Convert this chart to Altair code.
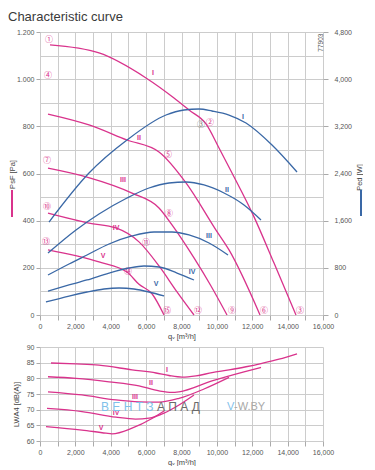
import altair as alt
import pandas as pd

PINK = "#d9338c"
BLUE = "#3a68a6"
FONT = "Liberation Sans"

# ---------- pressure curves (Pa) ----------
pI_q = [565, 3336, 5993, 7576, 8424, 9386, 10121, 10856, 12100, 13231, 14475]
pI_v = [1145, 1111, 1005, 920, 869, 810, 708, 602, 416, 220, 0]
pII_q = [452, 2770, 4919, 6728, 8255, 9951, 10686, 12440]
pII_v = [852, 806, 742, 691, 560, 360, 276, 0]
pIII_q = [452, 2657, 5202, 6728, 7463, 8707, 9668, 10573]
pIII_v = [623, 585, 517, 454, 382, 242, 123, 0]
pIV_q = [452, 2770, 4297, 5597, 6728, 7746, 8707]
pIV_v = [432, 390, 369, 310, 208, 98, 0]
pV_q = [452, 3336, 4919, 5597, 6332, 7011]
pV_v = [276, 225, 182, 130, 90, 0]

# ---------- power curves (W) ----------
wI_q = [509, 2770, 4919, 7124, 8142, 8990, 9725, 10686, 11647, 13117, 14531]
wI_v = [1577, 2408, 2968, 3392, 3477, 3494, 3460, 3392, 3256, 2883, 2425]
wII_q = [452, 2035, 3336, 4919, 6163, 7294, 8255, 9272, 10403, 11534, 12495]
wII_v = [1051, 1442, 1713, 1984, 2154, 2239, 2256, 2205, 2069, 1866, 1611]
wIII_q = [452, 1640, 2657, 3901, 5202, 6446, 7463, 8424, 9555, 10630]
wIII_v = [678, 865, 1018, 1204, 1340, 1408, 1408, 1357, 1221, 1018]
wIV_q = [452, 1640, 2657, 3901, 5032, 5880, 6728, 7746, 8707]
wIV_v = [407, 509, 594, 712, 797, 831, 814, 712, 594]
wV_q = [339, 1640, 2657, 3619, 4467, 5315, 6163, 7011]
wV_v = [220, 322, 390, 441, 458, 441, 390, 322]

# ---------- sound power curves (dB(A)) ----------
sI_q = [622, 2035, 3336, 5202, 6559, 7294, 8029, 8820, 9725, 10686, 11647, 12552, 13513, 14531]
sI_v = [84.9, 84.6, 84.2, 82.7, 81.7, 80.9, 80.4, 80.8, 81.8, 82.7, 83.7, 84.8, 86.1, 87.8]
sII_q = [452, 2035, 3900, 5597, 6728, 7463, 7859, 9725, 11534, 12495]
sII_v = [80.5, 80.0, 78.9, 77.6, 76.0, 75.5, 75.7, 79.2, 82.1, 83.5]
sIII_q = [452, 2375, 4297, 5597, 6728, 7859, 9272, 10686]
sIII_v = [75.7, 74.7, 73.1, 72.5, 72.4, 73.6, 76.6, 80.3]
sIV_q = [396, 2375, 4297, 5400, 6163, 7011, 7859, 8707]
sIV_v = [70.4, 69.4, 67.6, 67.0, 67.3, 68.9, 71.5, 74.7]
sV_q = [339, 2375, 3731, 4071, 5202, 6332, 7011]
sV_v = [64.6, 63.5, 62.5, 62.3, 64.1, 67.2, 69.6]

# ---------- labels ----------
roman = ["I", "II", "III", "IV", "V"]
plab_q = [6389, 5597, 4693, 4297, 3562]
plab_v = [1026, 750, 572, 369, 250]
wlab_q = [11478, 10573, 9555, 8594, 6559]
wlab_v = [3358, 2120, 1340, 729, 526]
slab_q = [7180, 6276, 5371, 4297, 3449]
slab_v = [82.7, 78.5, 74.0, 68.9, 64.2]

circ_txt = ["①", "④", "⑦", "⑩", "⑬", "②", "⑤", "⑧", "⑪", "⑭", "③", "⑥", "⑨", "⑫", "⑮"]
circ_q = [509, 452, 396, 396, 339, 9612, 7237, 7294, 5993, 4976, 14701, 12665, 10856, 8933, 7180]
circ_v = [1166, 1013, 653, 458, 310, 814, 678, 428, 305, 182, 17, 17, 17, 17, 17]
gray_circ_txt = ["③"]
gray_circ_q = [9103]
gray_circ_v = [806]


def long(names, qs, vs):
    rows = []
    for n, q, v in zip(names, qs, vs):
        for a, b in zip(q, v):
            rows.append({"curve": n, "q": a, "v": b})
    return pd.DataFrame(rows)


dfp = long(roman, [pI_q, pII_q, pIII_q, pIV_q, pV_q], [pI_v, pII_v, pIII_v, pIV_v, pV_v])
dfw = long(roman, [wI_q, wII_q, wIII_q, wIV_q, wV_q], [wI_v, wII_v, wIII_v, wIV_v, wV_v])
dfs = long(roman, [sI_q, sII_q, sIII_q, sIV_q, sV_q], [sI_v, sII_v, sIII_v, sIV_v, sV_v])

xscale = alt.Scale(domain=[0, 16000], nice=False)
xaxis = alt.Axis(
    values=list(range(0, 16001, 1000)),
    labelExpr="datum.value % 2000 === 0 ? format(datum.value, ',') : ''",
    tickSize=5, labelPadding=2, titlePadding=3, grid=True, labelFlush=False,
)
X = alt.X("q:Q", scale=xscale, axis=xaxis, title="qᵥ [m³/h]")

yp_axis = alt.Axis(
    values=list(range(0, 1201, 100)),
    labelExpr="datum.value % 200 === 0 ? replace(format(datum.value, ','), ',', '.') : ''",
    tickOpacity={"condition": {"test": "datum.value % 200 === 0", "value": 1}, "value": 0},
    tickSize=4, labelPadding=2, grid=True, labelFlush=False,
    titleX=-28, titleY=142, titleAngle=270, titleAlign="center", titleBaseline="middle",
)
YP = alt.Y("v:Q", scale=alt.Scale(domain=[0, 1200], nice=False), axis=yp_axis, title="PsF [Pa]")

yw_axis = alt.Axis(
    orient="right", values=list(range(0, 4801, 800)),
    labelExpr="format(datum.value, ',')",
    tickSize=5, labelPadding=6, grid=False, labelFlush=False,
    titleX=36, titleY=145, titleAngle=270, titleAlign="center", titleBaseline="middle",
)
YW = alt.Y("v:Q", scale=alt.Scale(domain=[0, 4800], nice=False), axis=yw_axis, title="Ped [W]")

p_lines = alt.Chart(dfp).mark_line(color=PINK, strokeWidth=1.3, interpolate="monotone").encode(
    x=X, y=YP, detail="curve:N")
p_labels = alt.Chart(pd.DataFrame({"t": roman, "q": plab_q, "v": plab_v})).mark_text(
    color=PINK, fontSize=7, fontWeight="bold", font=FONT).encode(x=X, y=YP, text="t:N")
p_circ = alt.Chart(pd.DataFrame({"t": circ_txt, "q": circ_q, "v": circ_v})).mark_text(
    color=PINK, fontSize=8, font="Noto Sans CJK JP").encode(x=X, y=YP, text="t:N")
g_circ = alt.Chart(pd.DataFrame({"t": gray_circ_txt, "q": gray_circ_q, "v": gray_circ_v})).mark_text(
    color="#777777", fontSize=8, font="Noto Sans CJK JP").encode(x=X, y=YP, text="t:N")
code = alt.Chart(pd.DataFrame({"t": ["77903"], "q": [15880], "v": [1155]})).mark_text(
    color="#555555", fontSize=6.5, angle=270, font=FONT).encode(x=X, y=YP, text="t:N")
p_bar = alt.Chart(pd.DataFrame({"a": [0]})).mark_rule(color=PINK, strokeWidth=2).encode(
    x=alt.value(-28), y=alt.value(158), y2=alt.value(185))

w_lines = alt.Chart(dfw).mark_line(color=BLUE, strokeWidth=1.3, interpolate="monotone").encode(
    x=X, y=YW, detail="curve:N")
w_labels = alt.Chart(pd.DataFrame({"t": roman, "q": wlab_q, "v": wlab_v})).mark_text(
    color=BLUE, fontSize=7, fontWeight="bold", font=FONT).encode(x=X, y=YW, text="t:N")
w_bar = alt.Chart(pd.DataFrame({"a": [0]})).mark_rule(color=BLUE, strokeWidth=2).encode(
    x=alt.value(321), y=alt.value(158), y2=alt.value(184))

top = alt.layer(
    alt.layer(p_lines, p_labels, p_circ, g_circ, code, p_bar),
    alt.layer(w_lines, w_labels, w_bar),
).resolve_scale(y="independent").properties(
    width=283, height=283,
    title=alt.Title("Characteristic curve", anchor="start", fontSize=13, font=FONT,
                    fontWeight="normal", color="#3a3a3a", offset=4),
)

ys_axis = alt.Axis(
    values=list(range(60, 91, 5)), tickSize=4, labelPadding=2, grid=True, labelFlush=False,
    titleX=-24, titleY=57, titleAngle=270, titleAlign="center", titleBaseline="middle",
)
YS = alt.Y("v:Q", scale=alt.Scale(domain=[60, 90], nice=False), axis=ys_axis, title="LWA4 [dB(A)]")

s_lines = alt.Chart(dfs).mark_line(color=PINK, strokeWidth=1.3, interpolate="monotone").encode(
    x=X, y=YS, detail="curve:N")
s_labels = alt.Chart(pd.DataFrame({"t": roman, "q": slab_q, "v": slab_v})).mark_text(
    color=PINK, fontSize=7, fontWeight="bold", font=FONT).encode(x=X, y=YS, text="t:N")

wm_txt = ["В Е Н Т З", "А П А Д", "V", "-W.BY"]
wm_q = [3449, 6616, 10573, 10970]
wm_v = [70.9, 70.9, 70.9, 70.9]
wm_col = ["#7fc1ea", "#6a6a6a", "#7fc1ea", "#a8a8a8"]
wm_size = [12, 12, 11, 11]
watermark = alt.Chart(pd.DataFrame({"t": wm_txt, "q": wm_q, "v": wm_v, "c": wm_col, "s": wm_size})).mark_text(
    align="left", font=FONT).encode(
    x=X, y=YS, text="t:N", color=alt.Color("c:N", scale=None),
    size=alt.Size("s:Q", scale=None))

bottom = alt.layer(s_lines, s_labels, watermark).properties(width=283, height=94)

chart = alt.vconcat(
    top, bottom, spacing=3, background="white",
    padding={"top": 3, "left": 0, "right": 0, "bottom": 0},
).configure_view(
    stroke=None
).configure_axis(
    labelFont=FONT, labelFontSize=7, labelColor="#555555",
    titleFont=FONT, titleFontSize=7.5, titleColor="#444444", titleFontWeight="normal",
    gridColor="#cccccc", gridWidth=1, domain=False, tickColor="#aaaaaa",
)

chart.save("out.html", embed_options={"renderer": "svg", "actions": False})
